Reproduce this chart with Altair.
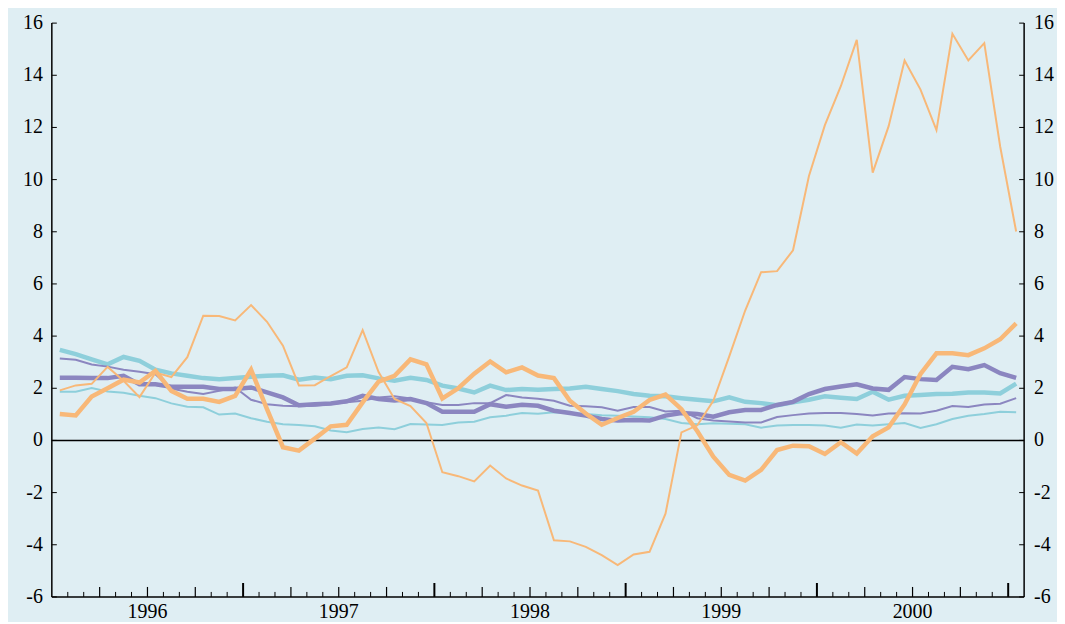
import altair as alt
import pandas as pd

# Monthly observations, Jul 1995 .. Jul 2000 (61 points)
months = list(range(61))

orange_thin = [1.92, 2.11, 2.17, 2.82, 2.29, 1.66, 2.60, 2.43, 3.19, 4.78,
               4.77, 4.60, 5.19, 4.55, 3.63, 2.11, 2.12, 2.47, 2.80, 4.23,
               2.62, 1.59, 1.32, 0.67, -1.22, -1.37, -1.57, -0.96, -1.46, -1.73,
               -1.92, -3.83, -3.87, -4.08, -4.40, -4.78, -4.37, -4.27, -2.81, 0.31,
               0.58, 1.52, 3.22, 4.98, 6.45, 6.49, 7.29, 10.14, 12.09, 13.58,
               15.36, 10.27, 12.05, 14.57, 13.45, 11.90, 15.59, 14.57, 15.23, 11.26,
               8.01]
orange_thick = [1.01, 0.96, 1.68, 2.00, 2.33, 2.22, 2.67, 1.90, 1.60, 1.60,
                1.48, 1.71, 2.71, 1.20, -0.26, -0.39, 0.07, 0.54, 0.60, 1.46,
                2.25, 2.48, 3.11, 2.92, 1.61, 2.00, 2.56, 3.03, 2.61, 2.80,
                2.49, 2.39, 1.52, 1.03, 0.60, 0.86, 1.10, 1.55, 1.76, 1.20,
                0.35, -0.62, -1.32, -1.54, -1.13, -0.37, -0.20, -0.22, -0.52, -0.07,
                -0.50, 0.16, 0.50, 1.38, 2.55, 3.34, 3.34, 3.27, 3.53, 3.88,
                4.49]
purple_thick = [2.40, 2.40, 2.39, 2.39, 2.48, 2.15, 2.15, 2.06, 2.06, 2.06,
                1.97, 1.97, 2.03, 1.84, 1.65, 1.35, 1.39, 1.42, 1.50, 1.71,
                1.59, 1.53, 1.59, 1.43, 1.10, 1.10, 1.10, 1.39, 1.29, 1.37,
                1.33, 1.14, 1.05, 0.95, 0.82, 0.76, 0.78, 0.76, 0.95, 1.05,
                1.01, 0.91, 1.08, 1.17, 1.17, 1.36, 1.48, 1.78, 1.97, 2.07,
                2.15, 1.99, 1.94, 2.43, 2.35, 2.32, 2.82, 2.73, 2.89, 2.58,
                2.40]
purple_thin = [3.14, 3.09, 2.91, 2.83, 2.71, 2.63, 2.54, 1.99, 1.87, 1.78,
               1.90, 2.03, 1.56, 1.39, 1.33, 1.31, 1.33, 1.39, 1.46, 1.52,
               1.65, 1.69, 1.61, 1.46, 1.36, 1.36, 1.43, 1.43, 1.74, 1.65,
               1.60, 1.52, 1.33, 1.31, 1.27, 1.14, 1.28, 1.28, 1.11, 1.14,
               0.85, 0.76, 0.73, 0.69, 0.69, 0.90, 0.97, 1.03, 1.05, 1.05,
               1.01, 0.96, 1.03, 1.04, 1.03, 1.14, 1.32, 1.28, 1.38, 1.41,
               1.62]
cyan_thick = [3.47, 3.31, 3.11, 2.92, 3.20, 3.05, 2.71, 2.57, 2.48, 2.39,
              2.35, 2.39, 2.44, 2.48, 2.50, 2.33, 2.41, 2.35, 2.48, 2.50,
              2.38, 2.29, 2.40, 2.32, 2.10, 1.99, 1.84, 2.10, 1.93, 1.97,
              1.94, 1.97, 1.99, 2.06, 1.97, 1.89, 1.78, 1.71, 1.69, 1.62,
              1.56, 1.50, 1.65, 1.48, 1.43, 1.35, 1.46, 1.56, 1.69, 1.64,
              1.59, 1.87, 1.56, 1.71, 1.74, 1.78, 1.79, 1.84, 1.84, 1.80,
              2.18]
cyan_thin = [1.87, 1.87, 2.01, 1.88, 1.83, 1.71, 1.62, 1.42, 1.29, 1.27,
             0.99, 1.03, 0.85, 0.72, 0.62, 0.59, 0.54, 0.38, 0.31, 0.44,
             0.50, 0.43, 0.63, 0.61, 0.59, 0.69, 0.72, 0.89, 0.95, 1.05,
             1.02, 1.08, 1.04, 1.01, 0.97, 0.95, 0.92, 0.89, 0.82, 0.67,
             0.62, 0.66, 0.64, 0.62, 0.49, 0.57, 0.59, 0.59, 0.57, 0.49,
             0.61, 0.57, 0.62, 0.67, 0.48, 0.62, 0.82, 0.95, 1.01, 1.10,
             1.08]

year_labels = ["1996", "1997", "1998", "1999", "2000"]
year_pos = [6, 18, 30, 42, 54]
y_ticks = list(range(-6, 17, 2))
month_ticks = list(range(1, 61))

ORANGE = "#f8b878"
PURPLE = "#8b86c0"
CYAN = "#8ecfdb"
BG = "#dfeef3"
FONT = "Liberation Serif"
FS = 20

W, H = 976, 576
xscale = alt.Scale(domain=[0, 61], nice=False, zero=False)
yscale = alt.Scale(domain=[-6, 16], nice=False, zero=False)

series = [
    ("cyan_thick", cyan_thick, CYAN, 4.5),
    ("cyan_thin", cyan_thin, CYAN, 2),
    ("purple_thick", purple_thick, PURPLE, 4.5),
    ("purple_thin", purple_thin, PURPLE, 2),
    ("orange_thin", orange_thin, ORANGE, 2),
    ("orange_thick", orange_thick, ORANGE, 4.5),
]

layers = []

# zero line
zero_df = pd.DataFrame({"v": [0]})
layers.append(
    alt.Chart(zero_df).mark_rule(color="black", strokeWidth=1.5).encode(
        y=alt.Y("v:Q", scale=yscale, axis=None)
    )
)

for name, vals, col, sw in series:
    df = pd.DataFrame({"m": months, "value": vals})
    df["x"] = df["m"] + 0.5
    layers.append(
        alt.Chart(df).mark_line(color=col, strokeWidth=sw, clip=True).encode(
            x=alt.X("x:Q", scale=xscale, axis=None),
            y=alt.Y("value:Q", scale=yscale, axis=None),
        )
    )

# frame lines: left, right, bottom
frame = alt.Chart(zero_df)
layers.append(frame.mark_rule(color="black", strokeWidth=1.5).encode(
    x=alt.value(0), y=alt.value(0), y2=alt.value(H)))
layers.append(frame.mark_rule(color="black", strokeWidth=1.5).encode(
    x=alt.value(W), y=alt.value(0), y2=alt.value(H)))
layers.append(frame.mark_rule(color="black", strokeWidth=1.5).encode(
    x=alt.value(0), x2=alt.value(W), y=alt.value(H)))

# x-axis ticks (pointing inward)
tick_df = pd.DataFrame({"k": month_ticks})
tick_df["kind"] = ["year" if k % 12 == 0 else ("quarter" if k % 3 == 0 else "minor")
                   for k in month_ticks]
for kind, length, width in [("minor", 5, 1), ("quarter", 10, 1.2), ("year", 14, 2)]:
    layers.append(
        alt.Chart(tick_df).transform_filter(alt.datum.kind == kind)
        .mark_rule(color="black", strokeWidth=width).encode(
            x=alt.X("k:Q", scale=xscale, axis=None),
            y=alt.value(H),
            y2=alt.value(H - length),
        )
    )

# x labels
year_df = pd.DataFrame({"pos": year_pos, "label": year_labels})
layers.append(
    alt.Chart(year_df).mark_text(font=FONT, fontSize=FS, color="black",
                                 baseline="alphabetic", align="center").encode(
        x=alt.X("pos:Q", scale=xscale, axis=None),
        y=alt.value(H + 21),
        text="label:N",
    )
)

# y ticks and labels, left and right
ytick_df = pd.DataFrame({"v": y_ticks})
ytick_df["label"] = [str(v) for v in y_ticks]
layers.append(
    alt.Chart(ytick_df).mark_rule(color="black", strokeWidth=1).encode(
        y=alt.Y("v:Q", scale=yscale, axis=None),
        x=alt.value(0), x2=alt.value(5),
    )
)
layers.append(
    alt.Chart(ytick_df).mark_rule(color="black", strokeWidth=1).encode(
        y=alt.Y("v:Q", scale=yscale, axis=None),
        x=alt.value(W - 5), x2=alt.value(W),
    )
)
layers.append(
    alt.Chart(ytick_df).mark_text(font=FONT, fontSize=FS, color="black",
                                  baseline="middle", align="right").encode(
        y=alt.Y("v:Q", scale=yscale, axis=None),
        x=alt.value(-9),
        text="label:N",
    )
)
layers.append(
    alt.Chart(ytick_df).mark_text(font=FONT, fontSize=FS, color="black",
                                  baseline="middle", align="left").encode(
        y=alt.Y("v:Q", scale=yscale, axis=None),
        x=alt.value(W + 10),
        text="label:N",
    )
)

chart = (
    alt.layer(*layers)
    .properties(
        width=W, height=H,
        autosize=alt.AutoSizeParams(type="none"),
        padding={"left": 44, "top": 14, "right": 33, "bottom": 24},
        background=BG,
    )
    .configure_view(stroke=None)
)

chart.save("out.html", embed_options={"renderer": "svg", "actions": False})
